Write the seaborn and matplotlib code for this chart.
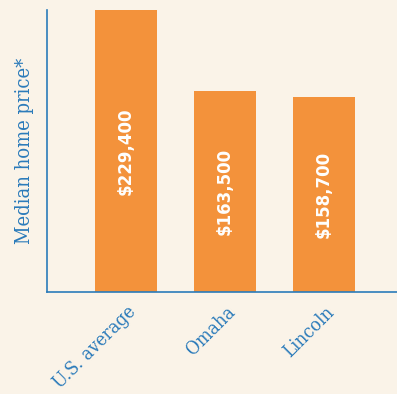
import matplotlib
matplotlib.use("Agg")
import matplotlib.pyplot as plt
import matplotlib.transforms as mtransforms
import seaborn as sns
import pandas as pd

categories = ["U.S. average", "Omaha", "Lincoln"]
prices = [229400, 163500, 158700]
labels = ["$229,400", "$163,500", "$158,700"]

BG = "#FAF3E8"
ORANGE = "#F3923B"
BLUE = "#2B7BBA"

sns.set_theme(style="white")
plt.rcParams["font.family"] = ["DejaVu Serif"]

df = pd.DataFrame({"cat": categories, "price": prices})

fig = plt.figure(figsize=(3.97, 3.94), dpi=100, facecolor=BG)
ax = fig.add_axes([47/397, 1 - 292/394, 350/397, 282/394])
ax.set_facecolor(BG)

sns.barplot(data=df, x="cat", y="price", color=ORANGE, saturation=1,
            width=0.63, ax=ax, edgecolor="none")

ax.set_xlim(-0.8, 2.74)
ax.set_ylim(0, 229400)
ax.set_yticks([])
ax.tick_params(axis="x", length=0, pad=8)
ax.set_xlabel("")
ax.set_ylabel("Median home price*", color=BLUE, fontsize=14.5, labelpad=9,
              fontstretch="condensed")

for s in ["top", "right"]:
    ax.spines[s].set_visible(False)
for s in ["left", "bottom"]:
    ax.spines[s].set_color(BLUE)
    ax.spines[s].set_linewidth(1.2)

offset = mtransforms.ScaledTranslation(1/100, 0, fig.dpi_scale_trans)
for t in ax.get_xticklabels():
    t.set_rotation(45)
    t.set_ha("right")
    t.set_rotation_mode("anchor")
    t.set_color(BLUE)
    t.set_fontsize(13.5)
    t.set_fontstretch("condensed")
    t.set_transform(t.get_transform() + offset)

for i, (p, lab) in enumerate(zip(prices, labels)):
    ax.text(i, p / 2, lab, rotation=90, ha="center", va="center",
            color="white", fontsize=12, fontweight="bold",
            family=["DejaVu Sans"])

fig.savefig("out.png", dpi=100, facecolor=BG)
